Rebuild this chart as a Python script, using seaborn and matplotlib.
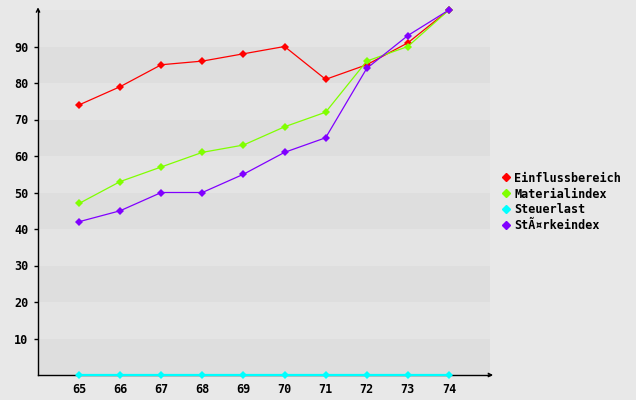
import pandas as pd
import matplotlib
matplotlib.use('Agg')
import matplotlib.pyplot as plt
import seaborn as sns

jahre = [65, 66, 67, 68, 69, 70, 71, 72, 73, 74]
einfluss = [74, 79, 85, 86, 88, 90, 81, 85, 91, 100]
material = [47, 53, 57, 61, 63, 68, 72, 86, 90, 100]
steuer = [0, 0, 0, 0, 0, 0, 0, 0, 0, 0]
staerke = [42, 45, 50, 50, 55, 61, 65, 84, 93, 100]
namen = ['Einflussbereich', 'Materialindex', 'Steuerlast', 'StÃ¤rkeindex']
farben = ['#ff0000', '#80ff00', '#00ffff', '#8000ff']

df = pd.DataFrame({
    'x': jahre * 4,
    'y': einfluss + material + steuer + staerke,
    'serie': [n for n in namen for _ in jahre],
})

sns.set_style('white')
plt.rcParams['font.family'] = ['DejaVu Sans Mono']
plt.rcParams['text.color'] = 'black'
plt.rcParams['xtick.color'] = 'black'
plt.rcParams['ytick.color'] = 'black'

fig = plt.figure(figsize=(6.36, 4.0), dpi=100, facecolor='#e8e8e8')
ax = fig.add_axes([38 / 636, 25 / 400, 452 / 636, 365 / 400])
ax.set_facecolor('#e8e8e8')

# horizontal bands
for i in range(10):
    ax.axhspan(i * 10, i * 10 + 10, color='#dedede' if i % 2 == 0 else '#e4e4e4', zorder=0, lw=0)

sns.lineplot(data=df, x='x', y='y', hue='serie', palette=farben, marker='D',
             markersize=4, markeredgewidth=0, linewidth=0.9, ax=ax, legend=False)
for l in ax.lines:
    l.set_clip_on(False)
    l.set_zorder(4)
    if l.get_color() == '#00ffff':
        l.set_linewidth(1.6)

ax.set_xlim(64, 75)
ax.set_ylim(0, 100)
for s in ['top', 'right']:
    ax.spines[s].set_visible(False)
for s in ['left', 'bottom']:
    ax.spines[s].set_color('black')
    ax.spines[s].set_linewidth(1)
    ax.spines[s].set_zorder(2)

ax.set_xticks(jahre)
ax.set_xticklabels([str(j) for j in jahre], fontweight='bold', fontsize=8.5)
ax.set_yticks(range(10, 100, 10))
ax.set_yticklabels([str(v) for v in range(10, 100, 10)], fontweight='bold', fontsize=8.5)
ax.tick_params(axis='x', length=0, pad=6, labelcolor='black')
ax.tick_params(axis='y', length=3, width=1, direction='out', pad=4, left=True,
               color='black', labelcolor='black')
ax.set_xlabel('')
ax.set_ylabel('')

# axis arrows
ax.annotate('', xy=(0, 1.015), xytext=(0, 0.99), xycoords='axes fraction',
            arrowprops=dict(arrowstyle='->', color='black', lw=1, mutation_scale=6))
ax.annotate('', xy=(1.013, 0), xytext=(0.99, 0), xycoords='axes fraction',
            arrowprops=dict(arrowstyle='->', color='black', lw=1, mutation_scale=6))

handles = [plt.Line2D([], [], color=c, marker='D', markersize=4, linestyle='')
           for c in farben]
leg = fig.legend(handles, namen, loc='center left', bbox_to_anchor=(492 / 636, 0.495),
                 frameon=False, prop={'weight': 'bold', 'size': 8.5},
                 handlelength=0.6, handletextpad=0.4, labelspacing=0.25)
for t in leg.get_texts():
    t.set_color('black')

fig.savefig('out.png', dpi=100, facecolor=fig.get_facecolor())
